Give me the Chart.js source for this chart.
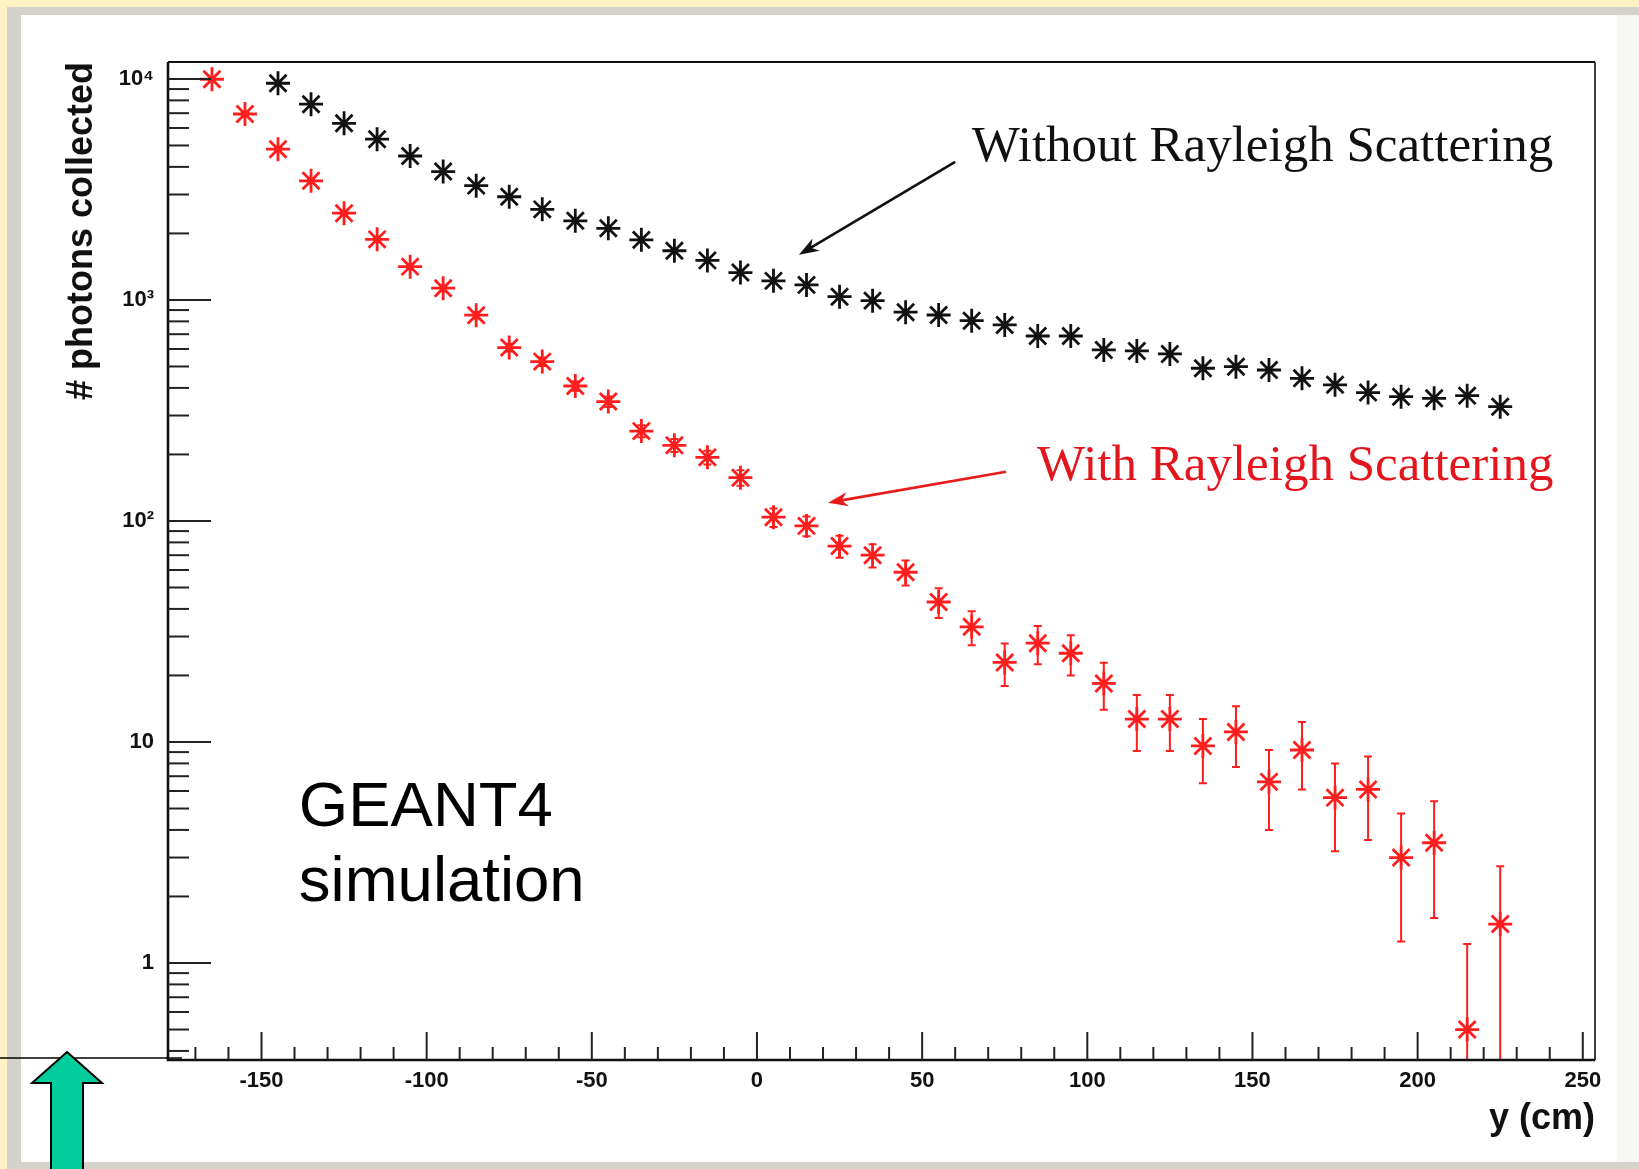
<!DOCTYPE html>
<html>
<head>
<meta charset="utf-8">
<title># photons collected vs y</title>
<script src="https://cdn.jsdelivr.net/npm/chart.js@4.4.1/dist/chart.umd.min.js"></script>
<style>
  html, body { margin: 0; padding: 0; background: #fff2c4; }
  #wrap { position: relative; width: 1639px; height: 1169px; }
</style>
</head>
<body>
<div id="wrap"><canvas id="photons" width="1639" height="1169"></canvas></div>
<script>
/* ---------- data ---------- */
const binCentres = [-165, -155, -145, -135, -125, -115, -105, -95, -85, -75,
                    -65, -55, -45, -35, -25, -15, -5, 5, 15, 25,
                    35, 45, 55, 65, 75, 85, 95, 105, 115, 125,
                    135, 145, 155, 165, 175, 185, 195, 205, 215, 225];

// first two bins are off the top of the plot
const withoutRayleigh = [null, null, 9560, 7690, 6300, 5340, 4480, 3810, 3290, 2930,
                         2570, 2280, 2110, 1870, 1670, 1510, 1330, 1220, 1170, 1035,
                         993, 880, 855, 806, 771, 687, 687, 594, 588, 570,
                         491, 499, 482, 442, 413, 381, 365, 359, 369, 329];

const withRayleigh = [9970, 6940, 4810, 3460, 2470, 1880, 1415, 1130, 853, 609,
                      526, 408, 347, 255, 220, 194, 157, 104, 95, 77,
                      70, 58.6, 43, 33.2, 22.9, 28, 25.2, 18.4, 12.7, 12.7,
                      9.6, 11.1, 6.6, 9.2, 5.6, 6.1, 3.0, 3.5, 0.5, 1.5];

const withRayleighErr = [100, 83, 69, 59, 50, 43, 38, 34, 29, 25,
                         23, 20, 19, 16, 15, 14, 12.5, 10, 9.8, 8.8,
                         8.4, 7.6, 6.6, 5.8, 5, 5.5, 5.2, 4.4, 3.6, 3.6,
                         3.1, 3.4, 2.6, 3.1, 2.4, 2.5, 1.75, 1.9, 0.72, 1.24];

const xMajorTicks = [-150, -100, -50, 0, 50, 100, 150, 200, 250];
const yMajorTicks = [1, 10, 100, 1000, 10000];
const yMajorLabels = ['1', '10', '10²', '10³', '10⁴'];

const xMin = -178.3, xMax = 253.7;
const yMin = 0.364, yMax = 11930;

/* ---------- minor tick positions ---------- */
const xTickValues = [];
for (let v = -170; v <= 250; v += 10) xTickValues.push(v);
const yTickValues = [0.4, 0.5, 0.6, 0.7, 0.8, 0.9];
yMajorTicks.forEach(m => {
  yTickValues.push(m);
  if (m < 10000) for (let d = 2; d <= 9; d++) yTickValues.push(+(m * d).toPrecision(3));
});

const SANS = "'Liberation Sans', Arial, Helvetica, sans-serif";
const SERIF = "'Liberation Serif', 'Times New Roman', serif";
const RED = '#ff1e1e';

function arrow(ctx, x1, y1, x2, y2, color) {
  const a = Math.atan2(y2 - y1, x2 - x1);
  const L = 20, W = 7;
  const cos = Math.cos(a), sin = Math.sin(a);
  ctx.strokeStyle = color;
  ctx.fillStyle = color;
  ctx.lineWidth = 2.6;
  ctx.beginPath();
  ctx.moveTo(x1, y1);
  ctx.lineTo(x2 - cos * L * 0.6, y2 - sin * L * 0.6);
  ctx.stroke();
  ctx.beginPath();
  ctx.moveTo(x2, y2);
  ctx.lineTo(x2 - L * cos + W * sin, y2 - L * sin - W * cos);
  ctx.lineTo(x2 - L * 0.7 * cos, y2 - L * 0.7 * sin);
  ctx.lineTo(x2 - L * cos - W * sin, y2 - L * sin + W * cos);
  ctx.closePath();
  ctx.fill();
}

/* ---------- slide background, error bars, frame, ticks, notes ---------- */
const decor = {
  id: 'decor',
  beforeDraw(chart) {
    const { ctx, width, height } = chart;
    ctx.save();
    ctx.fillStyle = '#fff2c4';
    ctx.fillRect(0, 0, width, height);
    ctx.fillStyle = '#d5d2cb';
    ctx.fillRect(7, 7, width - 7, height - 7);
    ctx.fillStyle = '#ffffff';
    ctx.fillRect(21, 15, width - 21, 1162 - 15);
    ctx.fillStyle = '#f6f6f4';
    ctx.fillRect(1617, 15, width - 1617, 1162 - 15);
    ctx.restore();
  },
  beforeDatasetsDraw(chart) {
    const { ctx, chartArea: a, scales: { x, y } } = chart;
    ctx.save();
    ctx.beginPath();
    ctx.rect(a.left, a.top, a.right - a.left, a.bottom - a.top);
    ctx.clip();
    ctx.strokeStyle = RED;
    ctx.lineWidth = 2;
    binCentres.forEach((c, i) => {
      const v = withRayleigh[i], e = withRayleighErr[i];
      const px = x.getPixelForValue(c);
      const hi = y.getPixelForValue(v + e);
      const lo = v - e > 0 ? y.getPixelForValue(v - e) : a.bottom + 10;
      ctx.beginPath();
      ctx.moveTo(px, hi); ctx.lineTo(px, lo);
      ctx.moveTo(px - 4, hi); ctx.lineTo(px + 4, hi);
      ctx.moveTo(px - 4, lo); ctx.lineTo(px + 4, lo);
      ctx.stroke();
    });
    ctx.restore();
  },
  afterDraw(chart) {
    const { ctx, chartArea: a, scales: { x, y } } = chart;
    ctx.save();

    // frame
    ctx.strokeStyle = '#111';
    ctx.lineCap = 'butt';
    ctx.lineWidth = 2;
    ctx.beginPath(); ctx.moveTo(a.left, a.top); ctx.lineTo(a.right, a.top); ctx.stroke();
    ctx.lineWidth = 1.6;
    ctx.beginPath(); ctx.moveTo(a.right, a.top); ctx.lineTo(a.right, a.bottom); ctx.stroke();
    ctx.lineWidth = 2.6;
    ctx.beginPath(); ctx.moveTo(a.left, a.top); ctx.lineTo(a.left, a.bottom); ctx.lineTo(a.right, a.bottom); ctx.stroke();

    // tick marks, drawn inwards like ROOT
    ctx.lineWidth = 2;
    ctx.strokeStyle = '#222';
    xTickValues.forEach(v => {
      const px = x.getPixelForValue(v);
      const len = xMajorTicks.includes(v) ? 28 : 13;
      ctx.beginPath(); ctx.moveTo(px, a.bottom); ctx.lineTo(px, a.bottom - len); ctx.stroke();
    });
    yTickValues.forEach(v => {
      const py = y.getPixelForValue(v);
      const len = yMajorTicks.includes(v) ? 43 : 21;
      ctx.beginPath(); ctx.moveTo(a.left, py); ctx.lineTo(a.left + len, py); ctx.stroke();
    });

    // annotations
    ctx.textBaseline = 'alphabetic';
    ctx.textAlign = 'left';
    ctx.font = '51px ' + SERIF;
    ctx.fillStyle = '#111';
    ctx.fillText('Without Rayleigh Scattering', x.getPixelForValue(65), y.getPixelForValue(4256));
    ctx.fillStyle = '#e3161e';
    ctx.fillText('With Rayleigh Scattering', x.getPixelForValue(84.8), y.getPixelForValue(153));

    arrow(ctx, x.getPixelForValue(60), y.getPixelForValue(4210),
               x.getPixelForValue(12.7), y.getPixelForValue(1600), '#111');
    arrow(ctx, x.getPixelForValue(75.4), y.getPixelForValue(167),
               x.getPixelForValue(21.5), y.getPixelForValue(121), '#e81a1a');

    ctx.fillStyle = '#000';
    ctx.font = '63.5px ' + SANS;
    ctx.fillText('GEANT4', x.getPixelForValue(-138.7), y.getPixelForValue(4.17));
    ctx.fillText('simulation', x.getPixelForValue(-138.7), y.getPixelForValue(1.91));

    // pointer at the bottom-left
    ctx.strokeStyle = '#000';
    ctx.lineWidth = 1.6;
    ctx.beginPath(); ctx.moveTo(0, a.bottom - 2); ctx.lineTo(a.left + 14, a.bottom - 2); ctx.stroke();

    ctx.fillStyle = '#00cc9c';
    ctx.lineWidth = 2;
    ctx.beginPath();
    ctx.moveTo(67, 1052);
    ctx.lineTo(102, 1083);
    ctx.lineTo(83, 1083);
    ctx.lineTo(83, 1175);
    ctx.lineTo(51, 1175);
    ctx.lineTo(51, 1083);
    ctx.lineTo(32, 1083);
    ctx.closePath();
    ctx.fill();
    ctx.stroke();

    ctx.restore();
  }
};

const tickFont = { family: SANS, size: 22, weight: 'bold' };
const titleFont = { family: SANS, size: 36, weight: 'bold' };

new Chart(document.getElementById('photons'), {
  type: 'scatter',
  data: {
    datasets: [
      {
        label: 'Without Rayleigh Scattering',
        data: binCentres.map((c, i) => ({ x: c, y: withoutRayleigh[i] })).filter(p => p.y !== null),
        pointStyle: 'star',
        pointRadius: 12,
        borderWidth: 2.8,
        borderColor: '#111',
        backgroundColor: '#111',
      },
      {
        label: 'With Rayleigh Scattering',
        data: binCentres.map((c, i) => ({ x: c, y: withRayleigh[i] })),
        pointStyle: 'star',
        pointRadius: 12,
        borderWidth: 2.8,
        borderColor: RED,
        backgroundColor: RED,
      },
    ],
  },
  options: {
    responsive: false,
    animation: false,
    devicePixelRatio: 1,
    layout: { padding: { top: 62, right: 44, left: 0, bottom: 0 } },
    plugins: { legend: { display: false }, tooltip: { enabled: false } },
    scales: {
      x: {
        type: 'linear',
        min: xMin,
        max: xMax,
        grid: { display: false, drawTicks: false },
        border: { display: false },
        afterBuildTicks: s => { s.ticks = xTickValues.map(v => ({ value: v })); },
        afterFit: s => { s.height = 109; },
        ticks: {
          autoSkip: false,
          maxRotation: 0,
          padding: 8,
          color: '#111',
          font: tickFont,
          callback: v => (xMajorTicks.includes(v) ? String(v) : ''),
        },
        title: {
          display: true,
          text: 'y (cm)',
          align: 'end',
          color: '#111',
          font: titleFont,
          padding: { top: 0, bottom: 28 },
        },
      },
      y: {
        type: 'logarithmic',
        min: yMin,
        max: yMax,
        grid: { display: false, drawTicks: false },
        border: { display: false },
        afterBuildTicks: s => { s.ticks = yTickValues.map(v => ({ value: v })); },
        afterFit: s => { s.width = 168; },
        ticks: {
          autoSkip: false,
          padding: 14,
          color: '#111',
          font: tickFont,
          callback: v => {
            const k = yMajorTicks.indexOf(v);
            return k >= 0 ? yMajorLabels[k] : '';
          },
        },
        title: {
          display: true,
          text: '# photons collected',
          align: 'end',
          color: '#111',
          font: titleFont,
          padding: { top: 60, bottom: 0 },
        },
      },
    },
  },
  plugins: [decor],
});
</script>
</body>
</html>
